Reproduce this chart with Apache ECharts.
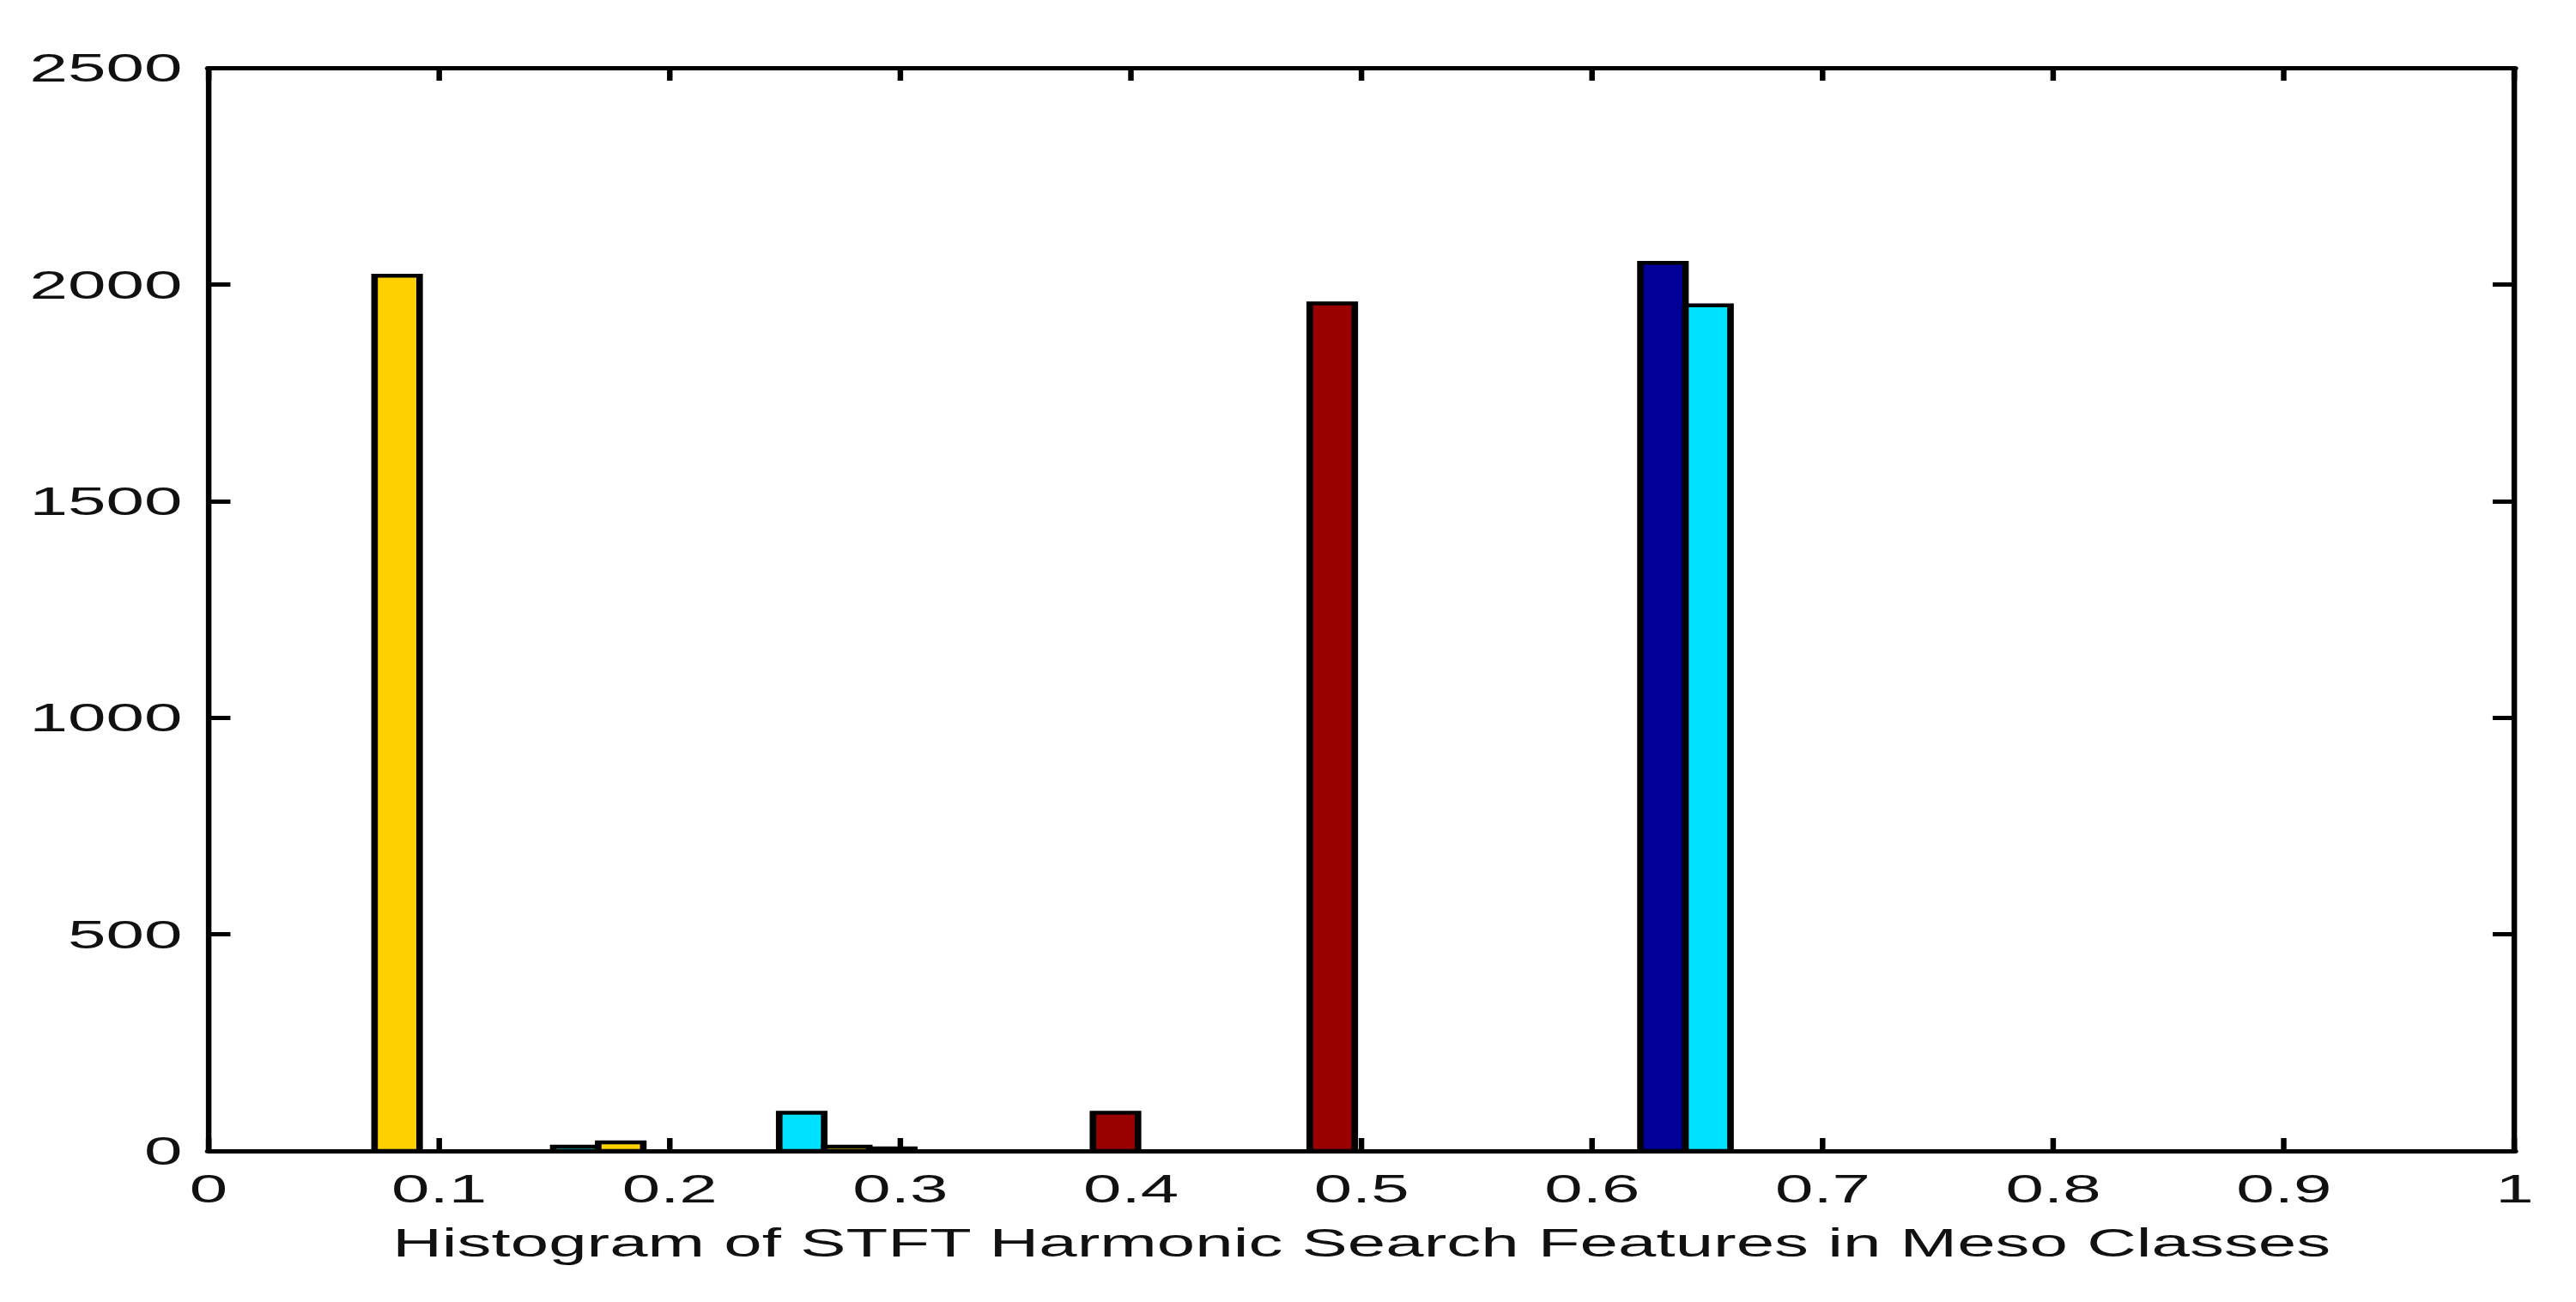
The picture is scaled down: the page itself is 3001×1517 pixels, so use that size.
<!DOCTYPE html>
<html>
<head>
<meta charset="utf-8">
<script src="https://cdn.jsdelivr.net/npm/echarts@6/dist/echarts.min.js"></script>
<style>
  html, body { margin: 0; padding: 0; background: #fff; }
  #wrap { width: 3001px; height: 1517px; overflow: hidden; background: #fff; position: relative; }
  /* the reference raster is stretched horizontally; reproduce that with a horizontal scale */
  #chart { width: 1765.3px; height: 1517px; transform: scaleX(1.7); transform-origin: 0 0; }
</style>
</head>
<body>
<div id="wrap"><div id="chart"></div></div>
<script>
// ---- data ----
const binCenters = [0.072, 0.169, 0.267, 0.364, 0.458, 0.556, 0.660, 0.757, 0.854, 0.951];
const seriesNames = ['Class 1', 'Class 2', 'Class 3', 'Class 4'];
const class1 = [0, 0, 0, 0, 0, 0, 2050, 0, 0, 0];      // dark blue
const class2 = [0, 10, 88, 0, 0, 0, 1952, 0, 0, 0];    // cyan
const class3 = [2020, 20, 10, 0, 0, 0, 0, 0, 0, 0];    // yellow
const class4 = [0, 0, 6, 88, 1956, 0, 0, 0, 0, 0];     // dark red
const xTickLabels = ['0', '0.1', '0.2', '0.3', '0.4', '0.5', '0.6', '0.7', '0.8', '0.9', '1'];
const yTickLabels = ['0', '500', '1000', '1500', '2000', '2500'];
const xTitle = 'Histogram of STFT Harmonic Search Features in Meso Classes';

const colors = ['#000099', '#00E1FF', '#FFD000', '#990000'];
const allValues = [class1, class2, class3, class4];

const nGroups = allValues.length;
const binSpacing = (binCenters[binCenters.length - 1] - binCenters[0]) / (binCenters.length - 1);
const barW = 0.8 * binSpacing / nGroups;

const FONT = "'Liberation Sans', Arial, Helvetica, sans-serif";

function makeSeries(k) {
  const vals = allValues[k];
  const data = [];
  binCenters.forEach((c, i) => { if (vals[i] > 0) data.push([c, vals[i]]); });
  return {
    type: 'custom',
    name: seriesNames[k],
    xAxisIndex: 0,
    yAxisIndex: 0,
    data: data,
    encode: { x: 0, y: 1 },
    renderItem: function (params, api) {
      const c = api.value(0);
      const v = api.value(1);
      const x0 = c + (k - (nGroups - 1) / 2) * barW - barW / 2;
      const x1 = x0 + barW;
      const p0 = api.coord([x0, v]);
      const p1 = api.coord([x1, 0]);
      return {
        type: 'rect',
        shape: { x: p0[0], y: p0[1], width: p1[0] - p0[0], height: p1[1] - p0[1] },
        style: { fill: colors[k], stroke: '#000', lineWidth: 4.5 }
      };
    }
  };
}

const hLine = 5;    // horizontal strokes
const vLine = 3.8;  // vertical strokes (stretched by the scale)

const chart = echarts.init(document.getElementById('chart'), null, { renderer: 'svg' });
chart.setOption({
  animation: false,
  backgroundColor: '#fff',
  grid: { left: 142.9, right: 41.8, top: 79, bottom: 176, containLabel: false },
  xAxis: [
    {
      type: 'value', position: 'bottom', min: 0, max: 1, interval: 0.1,
      axisLine: { show: true, onZero: false, lineStyle: { color: '#000', width: hLine } },
      axisTick: { show: true, inside: true, length: 15, lineStyle: { color: '#000', width: vLine } },
      axisLabel: {
        show: true, margin: 20, color: '#111', fontFamily: FONT, fontSize: 47,
        showMinLabel: true, showMaxLabel: true,
        formatter: v => xTickLabels[Math.round(v * 10)]
      },
      splitLine: { show: false },
      name: xTitle, nameLocation: 'middle', nameGap: 83,
      nameTextStyle: { color: '#111', fontFamily: FONT, fontSize: 47 }
    },
    {
      type: 'value', position: 'top', min: 0, max: 1, interval: 0.1,
      axisLine: { show: true, onZero: false, lineStyle: { color: '#000', width: hLine } },
      axisTick: { show: true, inside: true, length: 15, lineStyle: { color: '#000', width: vLine } },
      axisLabel: { show: false },
      splitLine: { show: false }
    }
  ],
  yAxis: [
    {
      type: 'value', position: 'left', min: 0, max: 2500, interval: 500,
      axisLine: { show: true, onZero: false, lineStyle: { color: '#000', width: vLine } },
      axisTick: { show: true, inside: true, length: 15, lineStyle: { color: '#000', width: hLine } },
      axisLabel: {
        show: true, margin: 18, color: '#111', fontFamily: FONT, fontSize: 47,
        showMinLabel: true, showMaxLabel: true,
        formatter: v => yTickLabels[Math.round(v / 500)]
      },
      splitLine: { show: false }
    },
    {
      type: 'value', position: 'right', min: 0, max: 2500, interval: 500,
      axisLine: { show: true, onZero: false, lineStyle: { color: '#000', width: vLine } },
      axisTick: { show: true, inside: true, length: 15, lineStyle: { color: '#000', width: hLine } },
      axisLabel: { show: false },
      splitLine: { show: false }
    }
  ],
  series: [0, 1, 2, 3].map(makeSeries)
});
</script>
</body>
</html>
